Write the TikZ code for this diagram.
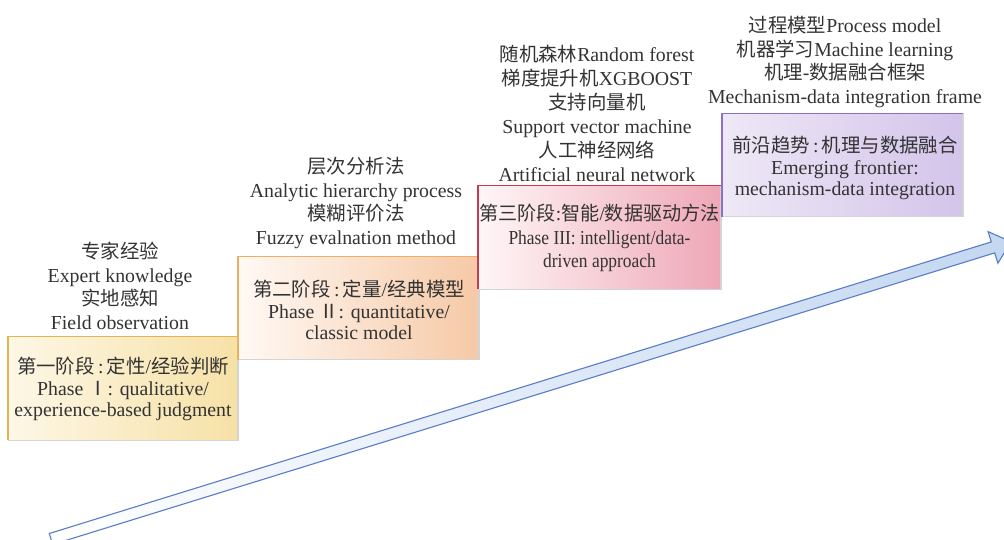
\documentclass[tikz,border=0pt]{standalone}
\usepackage{fontspec}
\setmainfont{Liberation Serif}
\newfontfamily\cjk{Noto Sans CJK SC}[Scale=0.98]

\definecolor{txt}{HTML}{333333}
\definecolor{shadowc}{HTML}{D4D4D4}
% stage colours: border, light fill, deep fill
\definecolor{oneB}{HTML}{E3B552}\definecolor{oneL}{HTML}{FDF7E6}\definecolor{oneR}{HTML}{F6E1A6}
\definecolor{twoB}{HTML}{EBB064}\definecolor{twoL}{HTML}{FFF9F4}\definecolor{twoR}{HTML}{F6C9A6}
\definecolor{thrB}{HTML}{C63A50}\definecolor{thrL}{HTML}{FFF6F7}\definecolor{thrR}{HTML}{EEA7B6}
\definecolor{fouB}{HTML}{8D70C3}\definecolor{fouL}{HTML}{EEE8F6}\definecolor{fouR}{HTML}{D3C4EA}
\definecolor{arrowB}{HTML}{5A7CC8}\definecolor{arrowR}{HTML}{C3D7F0}

\begin{document}
\begin{tikzpicture}[x=1pt,y=-1pt,
  every node/.style={text=txt, align=center, inner sep=0pt},
  methods/.style={font=\fontsize{19.8}{23.5}\selectfont},
  phasetext/.style={font=\fontsize{19.8}{21.5}\selectfont},
  stagebox/.style={minimum width=#1, minimum height=103.5, outer sep=0pt}]

\useasboundingbox (0,0) rectangle (1004,540);

% rising timeline arrow
\begin{scope}
  \clip (0,0) rectangle (1004,540);
  \path[draw=arrowB, line width=1.1, line join=miter, left color=white, right color=arrowR]
    (52.7,544.5) -- (49.3,533.5) -- (991.3,241.9) -- (988.1,231.6)
    -- (1011.1,241.8) -- (997.9,263.2) -- (994.7,252.9) -- cycle;
\end{scope}

% stage boxes: shaded body, grey shadow on right/bottom, coloured top/left edge
\newcommand{\stageedges}[2]{%
  \draw[shadowc, line width=1.3] (#1.north east) -- (#1.south east) -- (#1.south west);
  \draw[#2, line width=1.2] (#1.south west) -- (#1.north west) -- (#1.north east);}

\node[stagebox=230, left color=oneL, right color=oneR] (s1) at (123,388.5) {};
\stageedges{s1}{oneB}
\node[stagebox=241, left color=twoL, right color=twoR] (s2) at (358.5,308) {};
\stageedges{s2}{twoB}
\node[stagebox=243, left color=thrL, right color=thrR] (s3) at (599.5,237.5) {};
\stageedges{s3}{thrB}
\node[stagebox=241, left color=fouL, right color=fouR] (s4) at (842.5,165) {};
\stageedges{s4}{fouB}

% stage titles
\node[phasetext] (t1) at (123,389) {{\cjk 第一阶段}\,:\,{\cjk 定性}/{\cjk 经验判断}\\Phase {\cjk Ⅰ}: qualitative/\\experience-based judgment};
\node[phasetext] (t2) at (359,310) {{\cjk 第二阶段}\,:\,{\cjk 定量}/{\cjk 经典模型}\\Phase {\cjk Ⅱ}: quantitative/\\classic model};
\node[phasetext, font=\fontsize{19.8}{23.5}\selectfont] (t3) at (599.5,238) {\scalebox{0.985}[1]{{\cjk 第三阶段}:{\cjk 智能}/{\cjk 数据驱动方法}}\\\scalebox{0.88}[1]{Phase III: intelligent/data-}\\\scalebox{0.88}[1]{driven approach}};
\node[phasetext] (t4) at (845,168) {{\cjk 前沿趋势}\,:\,{\cjk 机理与数据融合}\\Emerging frontier:\\mechanism-data integration};

% representative methods of each stage
\node[methods] (m1) at (120,286) {{\cjk 专家经验}\\Expert knowledge\\{\cjk 实地感知}\\Field observation};
\node[methods] (m2) at (356,203) {{\cjk 层次分析法}\\Analytic hierarchy process\\{\cjk 模糊评价法}\\Fuzzy evalnation method};
\node[methods, font=\fontsize{19.8}{24}\selectfont] (m3) at (597,113) {{\cjk 随机森林}Random forest\\{\cjk 梯度提升机}XGBOOST\\{\cjk 支持向量机}\\Support vector machine\\{\cjk 人工神经网络}\\Artificial neural network};
\node[methods] (m4) at (845,62) {{\cjk 过程模型}Process model\\{\cjk 机器学习}Machine learning\\{\cjk 机理}-{\cjk 数据融合框架}\\Mechanism-data integration frame};

\end{tikzpicture}
\end{document}
